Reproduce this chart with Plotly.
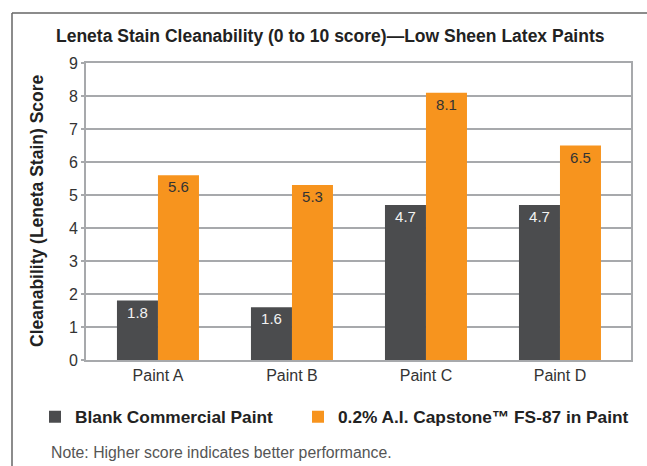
import plotly.graph_objects as go

categories = ["Paint A", "Paint B", "Paint C", "Paint D"]
blank_values = [1.8, 1.6, 4.7, 4.7]
capstone_values = [5.6, 5.3, 8.1, 6.5]
series_names = ["Blank Commercial Paint", "0.2% A.I. Capstone\u2122 FS-87 in Paint"]
y_ticks = [0, 1, 2, 3, 4, 5, 6, 7, 8, 9]

DARK = "#4b4c4e"
ORANGE = "#f7941e"
GRID = "#a7a9ac"
FONT = "Liberation Sans, Arial, sans-serif"

W, H = 647, 466
L, R, T, B = 86, 16, 63, 106
PW, PH = W - L - R, H - T - B

def px_x(x):
    return (x - L) / PW

def px_y(y):
    return (H - B - y) / PH

legend_font = dict(family=FONT, size=17.3, color="#222222", weight="bold")

fig = go.Figure()
fig.add_trace(go.Bar(
    x=categories, y=blank_values, name=series_names[0], legend="legend",
    marker=dict(color=DARK, line=dict(width=0)),
    text=[f"{v:.1f}" for v in blank_values], textposition="inside",
    insidetextanchor="end", textangle=0,
    textfont=dict(family=FONT, size=15, color="#f2f2f2"),
))
fig.add_trace(go.Bar(
    x=categories, y=capstone_values, name=series_names[1], legend="legend2",
    marker=dict(color=ORANGE, line=dict(width=0)),
    text=[f"{v:.1f}" for v in capstone_values], textposition="inside",
    insidetextanchor="end", textangle=0,
    textfont=dict(family=FONT, size=15, color="#333333"),
))

fig.update_layout(
    width=W, height=H,
    margin=dict(l=L, r=R, t=T, b=B, pad=0, autoexpand=False),
    paper_bgcolor="white", plot_bgcolor="white",
    barmode="group", bargap=0.388, bargroupgap=0,
    font=dict(family=FONT, color="#333333"),
    showlegend=True,
    legend=dict(
        orientation="h", x=px_x(35), xanchor="left",
        y=px_y(417), yanchor="middle", font=legend_font,
        itemsizing="constant", bgcolor="rgba(0,0,0,0)",
    ),
    legend2=dict(
        orientation="h", x=px_x(298), xanchor="left",
        y=px_y(417), yanchor="middle", font=legend_font,
        itemsizing="constant", bgcolor="rgba(0,0,0,0)",
    ),
    xaxis=dict(
        range=[-0.537, 3.53], showgrid=False,
        showline=True, linecolor=GRID, linewidth=2, mirror=True,
        ticks="", tickfont=dict(family=FONT, size=16, color="#333333"),
        fixedrange=True,
    ),
    yaxis=dict(
        range=[0, 9], tickvals=y_ticks, ticktext=[str(t) for t in y_ticks],
        showgrid=True, gridcolor=GRID, gridwidth=2,
        showline=True, linecolor=GRID, linewidth=2, mirror=True,
        ticks="outside", ticklen=3, tickcolor=GRID, tickwidth=2,
        tickfont=dict(family=FONT, size=16, color="#333333"),
        zeroline=False, fixedrange=True,
    ),
    annotations=[
        dict(text="<b>Leneta Stain Cleanability (0 to 10 score)\u2014Low Sheen Latex Paints</b>",
             xref="paper", yref="paper", x=px_x(330), y=px_y(36),
             xanchor="center", yanchor="middle", showarrow=False,
             font=dict(family=FONT, size=17.5, color="#222222")),
        dict(text="<b>Cleanability (Leneta Stain) Score</b>",
             xref="paper", yref="paper", x=px_x(37), y=px_y(211),
             xanchor="center", yanchor="middle", showarrow=False, textangle=-90,
             font=dict(family=FONT, size=17.5, color="#222222")),
        dict(text="Note: Higher score indicates better performance.",
             xref="paper", yref="paper", x=px_x(49), y=px_y(452),
             xanchor="left", yanchor="middle", showarrow=False,
             font=dict(family=FONT, size=15.8, color="#555555")),
    ],
    shapes=[
        dict(type="line", xref="paper", yref="paper",
             x0=px_x(12), x1=px_x(12), y0=px_y(13), y1=px_y(470),
             line=dict(color="#666666", width=1.5)),
        dict(type="line", xref="paper", yref="paper",
             x0=px_x(12), x1=px_x(650), y0=px_y(13), y1=px_y(13),
             line=dict(color="#666666", width=1.5)),
    ],
)

fig.write_html("out.html", config={"displayModeBar": False},
               post_script="document.body.style.margin='0';document.body.style.padding='0';")
